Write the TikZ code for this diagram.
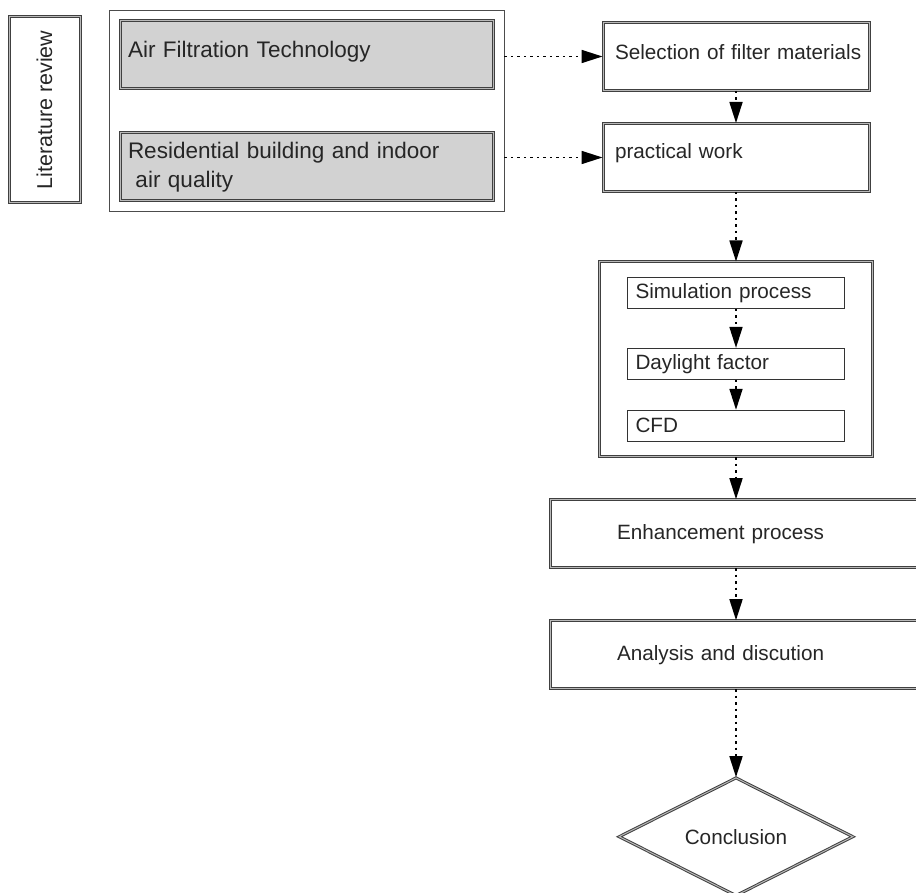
\documentclass[tikz,border=0pt]{standalone}
\usepackage{fontspec}
\setmainfont{Liberation Sans}
\usetikzlibrary{positioning}
\usetikzlibrary{fit}
\usetikzlibrary{shapes.geometric}
\usetikzlibrary{arrows.meta}
\tikzset{>={Triangle[length=21pt,width=13pt]}}

\begin{document}
\begin{tikzpicture}[x=1pt,y=-1pt,
    every node/.style={text=black!85,font=\fontsize{20.7}{25}\selectfont},
    dline/.style={draw=black!75,double=gray!55,double distance=1pt,line width=1pt},
    greybox/.style={rectangle,dline,fill=gray!35,align=left,inner xsep=8pt,text width=357pt,minimum height=68pt,font=\fontsize{22.5}{29}\selectfont},
    stagebox/.style={rectangle,dline,align=left,inner xsep=12pt,text width=242pt,minimum height=68pt},
    widebox/.style={rectangle,dline,align=left,inner xsep=67pt,text width=238pt,minimum height=68pt},
    subbox/.style={rectangle,draw=black!80,line width=0.9pt,align=left,inner xsep=8pt,text width=201pt,minimum height=31pt},
    toptext/.style={text height=14pt,text depth=8pt},
    flow/.style={->,line width=1.7pt,dash pattern=on 2.5pt off 4pt}]
  \useasboundingbox (0,0) rectangle (916,893);
  \clip (0,0) rectangle (916,893);

  % literature review
  \node[greybox,toptext] (air) at (306.5,55) {Air Filtration Technology};
  \node[greybox,below=43pt of air] (res) {Residential building and indoor\\~air quality};
  \node[draw=black!70,line width=0.8pt,fit=(air)(res),inner xsep=10.5pt,inner ysep=10pt] (grp) {};
  \node[rectangle,dline,rotate=90,minimum width=186pt,minimum height=71pt,font=\fontsize{21.5}{25}\selectfont] (lit) at (44.5,110) {Literature review};

  % work stages
  \node[stagebox,toptext] (sel) at (736,56.5) {\mbox{Selection of filter materials}};
  \node[stagebox,below=32pt of sel,text height=12pt,text depth=10pt] (prac) {practical work};

  \node[subbox,below=85pt of prac] (simp) {Simulation process};
  \node[subbox,below=39pt of simp] (day) {Daylight factor};
  \node[subbox,below=30pt of day] (cfd) {CFD};
  \node[dline,fit=(simp)(cfd),inner xsep=28pt,inner ysep=15pt] (simgrp) {};

  \node[widebox,below=42pt of simgrp] (enh) {Enhancement process};
  \node[widebox,below=52pt of enh] (ana) {Analysis and discution};
  \node[diamond,dline,aspect=2,minimum width=234pt,minimum height=118pt,inner sep=0pt,below=88pt of ana] (conc) {Conclusion};

  \draw[flow] (grp.east |- sel) -- (sel);
  \draw[flow] (grp.east |- prac) -- (prac);
  \draw[flow] (sel) -- (prac);
  \draw[flow] (prac) -- (simgrp);
  \draw[flow] (simp) -- (day);
  \draw[flow] (day) -- (cfd);
  \draw[flow] (simgrp) -- (enh);
  \draw[flow] (enh) -- (ana);
  \draw[flow] (ana) -- (conc);
\end{tikzpicture}
\end{document}
